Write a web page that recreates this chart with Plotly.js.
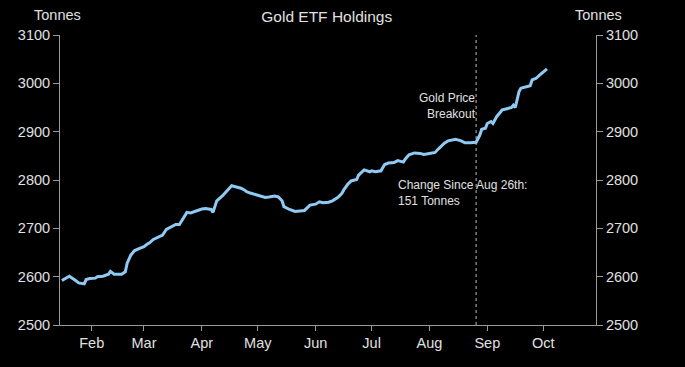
<!DOCTYPE html>
<html>
<head>
<meta charset="utf-8">
<script src="https://cdn.plot.ly/plotly-3.0.1.min.js"></script>
<style>
html,body{margin:0;padding:0;background:#000;}
#chart{width:685px;height:367px;}
</style>
</head>
<body>
<div id="chart"></div>
<script>
var dates = [
"2019-01-16","2019-01-20","2019-01-23","2019-01-25","2019-01-28","2019-01-29","2019-01-31",
"2019-02-03","2019-02-04","2019-02-07","2019-02-10","2019-02-11","2019-02-13","2019-02-17",
"2019-02-19","2019-02-20","2019-02-22","2019-02-24","2019-02-27","2019-03-01","2019-03-03",
"2019-03-04","2019-03-06","2019-03-08","2019-03-11","2019-03-13","2019-03-16","2019-03-18",
"2019-03-20","2019-03-22","2019-03-24","2019-03-26","2019-03-29","2019-04-01","2019-04-03",
"2019-04-06","2019-04-07","2019-04-09","2019-04-12","2019-04-15","2019-04-17","2019-04-19",
"2019-04-22","2019-04-24","2019-04-25","2019-04-27","2019-04-29","2019-05-02","2019-05-05",
"2019-05-07","2019-05-10","2019-05-12","2019-05-14","2019-05-15","2019-05-18","2019-05-21",
"2019-05-24","2019-05-26","2019-05-29","2019-06-01","2019-06-03","2019-06-05","2019-06-08",
"2019-06-10","2019-06-13","2019-06-15","2019-06-16","2019-06-18","2019-06-20","2019-06-23",
"2019-06-24","2019-06-27","2019-06-30","2019-07-01","2019-07-03","2019-07-06","2019-07-08",
"2019-07-10","2019-07-13","2019-07-15","2019-07-18","2019-07-19","2019-07-21","2019-07-24",
"2019-07-27","2019-07-29","2019-08-01","2019-08-04","2019-08-06","2019-08-09","2019-08-11",
"2019-08-15","2019-08-18","2019-08-20","2019-08-23","2019-08-26","2019-08-28","2019-08-29",
"2019-08-31","2019-09-01","2019-09-03","2019-09-04","2019-09-06","2019-09-09","2019-09-11",
"2019-09-14","2019-09-15","2019-09-16","2019-09-18","2019-09-19","2019-09-22","2019-09-24",
"2019-09-25","2019-09-27","2019-09-29","2019-10-02","2019-10-03"
];
var holdings = [
2592,2601,2593,2587,2585,2594,2596,
2597,2600,2601,2605,2611,2605,2605,
2610,2628,2645,2654,2659,2662,2668,
2670,2677,2681,2686,2698,2705,2708,
2708,2721,2733,2732,2736,2740,2741,
2739,2733,2757,2767,2779,2788,2786,
2783,2779,2776,2773,2771,2768,2764,
2765,2767,2765,2757,2745,2739,2735,
2737,2737,2748,2750,2755,2753,2754,
2757,2764,2772,2779,2790,2798,2801,
2810,2821,2817,2819,2817,2819,2832,
2835,2836,2840,2837,2843,2852,2856,
2855,2853,2855,2857,2865,2876,2881,
2884,2881,2877,2877,2878,2893,2905,
2907,2917,2921,2917,2931,2945,2947,
2950,2955,2950,2983,2990,2993,2995,
3007,3010,3017,3028,3030
];
var yTicks = [2500,2600,2700,2800,2900,3000,3100];
var breakoutDate = "2019-08-26";
var chartTitle = "Gold ETF Holdings";
var unitLabel = "Tonnes";
var breakoutText = "Gold Price<br>Breakout";
var changeText = "Change Since Aug 26th:<br>151 Tonnes";

var FONT = "Liberation Sans, Arial, sans-serif";
var TXT = "#e0e0e0";
var AX = "#9a9a9a";

var traces = [
  {x: dates, y: holdings, type: "scatter", mode: "lines",
   line: {color: "#8fcaf5", width: 3}, hoverinfo: "skip", showlegend: false},
  {x: dates, y: holdings, type: "scatter", mode: "lines", yaxis: "y2",
   line: {color: "rgba(0,0,0,0)", width: 0}, hoverinfo: "skip", showlegend: false}
];

var yCommon = {
  range: [2500, 3100], tickvals: yTicks, ticktext: yTicks.map(String),
  showgrid: false, zeroline: false, showline: true, linecolor: AX, linewidth: 1,
  ticks: "outside", ticklen: 6, tickcolor: AX, tickwidth: 1,
  tickfont: {family: FONT, size: 14.5, color: TXT}
};

var layout = {
  width: 685, height: 367,
  paper_bgcolor: "#000", plot_bgcolor: "#000",
  margin: {l: 60, r: 89, t: 35, b: 42},
  title: {text: chartTitle, x: 0.477, xanchor: "center", y: 0.955, yanchor: "middle",
          font: {family: FONT, size: 15.5, color: TXT}},
  xaxis: {
    type: "date", range: ["2019-01-15", "2019-10-29 06:00"],
    tick0: "2019-01-01", dtick: "M1", tickformat: "%b",
    showgrid: false, zeroline: false, showline: true, linecolor: AX, linewidth: 1,
    ticks: "outside", ticklen: 5, tickcolor: AX,
    tickfont: {family: FONT, size: 14.5, color: TXT}
  },
  yaxis: Object.assign({side: "left"}, yCommon),
  yaxis2: Object.assign({side: "right", overlaying: "y"}, yCommon),
  shapes: [
    {type: "line", xref: "x", yref: "paper", x0: breakoutDate, x1: breakoutDate, y0: 0, y1: 1,
     line: {color: "#bbbbbb", width: 1, dash: "dot"}}
  ],
  annotations: [
    {xref: "paper", yref: "paper", x: -0.005, y: 1.07, xanchor: "center", yanchor: "middle",
     text: unitLabel, showarrow: false, font: {family: FONT, size: 14.5, color: TXT}},
    {xref: "paper", yref: "paper", x: 1.005, y: 1.07, xanchor: "center", yanchor: "middle",
     text: unitLabel, showarrow: false, font: {family: FONT, size: 14.5, color: TXT}},
    {xref: "x", yref: "y", x: breakoutDate, y: 2953, xanchor: "right", yanchor: "middle",
     xshift: 2, align: "right", text: breakoutText, showarrow: false,
     font: {family: FONT, size: 12, color: TXT}},
    {xref: "x", yref: "y", x: "2019-07-14", y: 2773, xanchor: "left", yanchor: "middle",
     align: "left", text: changeText, showarrow: false,
     font: {family: FONT, size: 12, color: TXT}}
  ]
};

Plotly.newPlot("chart", traces, layout, {staticPlot: true, displayModeBar: false});
</script>
</body>
</html>
